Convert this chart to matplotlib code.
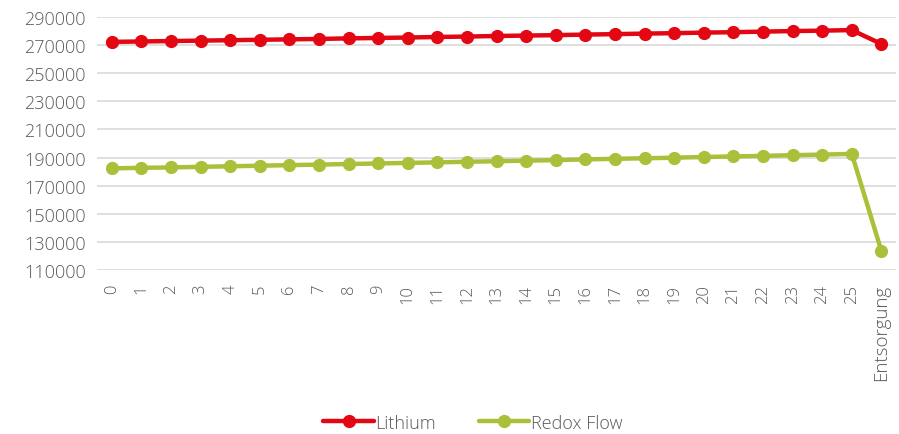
import matplotlib
matplotlib.use("Agg")
import matplotlib.pyplot as plt

categories = [str(i) for i in range(26)] + ["Entsorgung"]

lithium = [272300, 272600, 272900, 273200, 273500, 273800, 274100, 274400,
           274800, 275100, 275400, 275800, 276100, 276500, 276800, 277100,
           277500, 277800, 278200, 278500, 278900, 279200, 279600, 280000,
           280300, 280700, 270800]

redox_flow = [182300, 182700, 183000, 183400, 183800, 184200, 184600, 185000,
              185400, 185800, 186200, 186600, 187000, 187400, 187800, 188200,
              188700, 189100, 189500, 189900, 190400, 190800, 191200, 191700,
              192100, 192600, 123500]

y_ticks = list(range(110000, 290001, 20000))

plt.rcParams['font.family'] = ['Open Sans', 'DejaVu Sans']
plt.rcParams['font.weight'] = 300
text_color = '#595959'

fig = plt.figure(figsize=(8.99, 4.35), dpi=100)
ax = fig.add_axes([0.1079, 0.377, 0.889, 0.5816])

x = list(range(len(categories)))
ax.plot(x, lithium, color='#E30613', lw=3.2, marker='o', ms=8.5,
        label='Lithium', solid_capstyle='round', zorder=3)
ax.plot(x, redox_flow, color='#A9C13A', lw=3.2, marker='o', ms=8.5,
        label='Redox Flow', solid_capstyle='round', zorder=3)

ax.set_xlim(-0.5, len(categories) - 0.5)
ax.set_ylim(110000, 290000)
ax.set_yticks(y_ticks)
ax.set_yticklabels([str(v) for v in y_ticks], fontsize=13, fontweight=300)
ax.set_xticks(x)
xlabels = ax.set_xticklabels(categories, rotation=90, fontsize=12, fontweight=300)
# the word label is set a little larger than the year numbers
xlabels[-1].set_fontsize(13.5)

ax.grid(axis='y', color='#D9D9D9', lw=1.2, zorder=0)
ax.set_axisbelow(True)
for s in ax.spines.values():
    s.set_visible(False)
ax.tick_params(axis='both', length=0, labelcolor=text_color)
ax.tick_params(axis='y', pad=8)
ax.tick_params(axis='x', pad=10)

leg = fig.legend(loc='center', bbox_to_anchor=(0.526, 0.026), ncol=2,
                 frameon=False, prop={'size': 13, 'weight': 300},
                 handlelength=2.8, columnspacing=2.35, handletextpad=0.1)
for t in leg.get_texts():
    t.set_color(text_color)

fig.savefig('out.png', dpi=100)
